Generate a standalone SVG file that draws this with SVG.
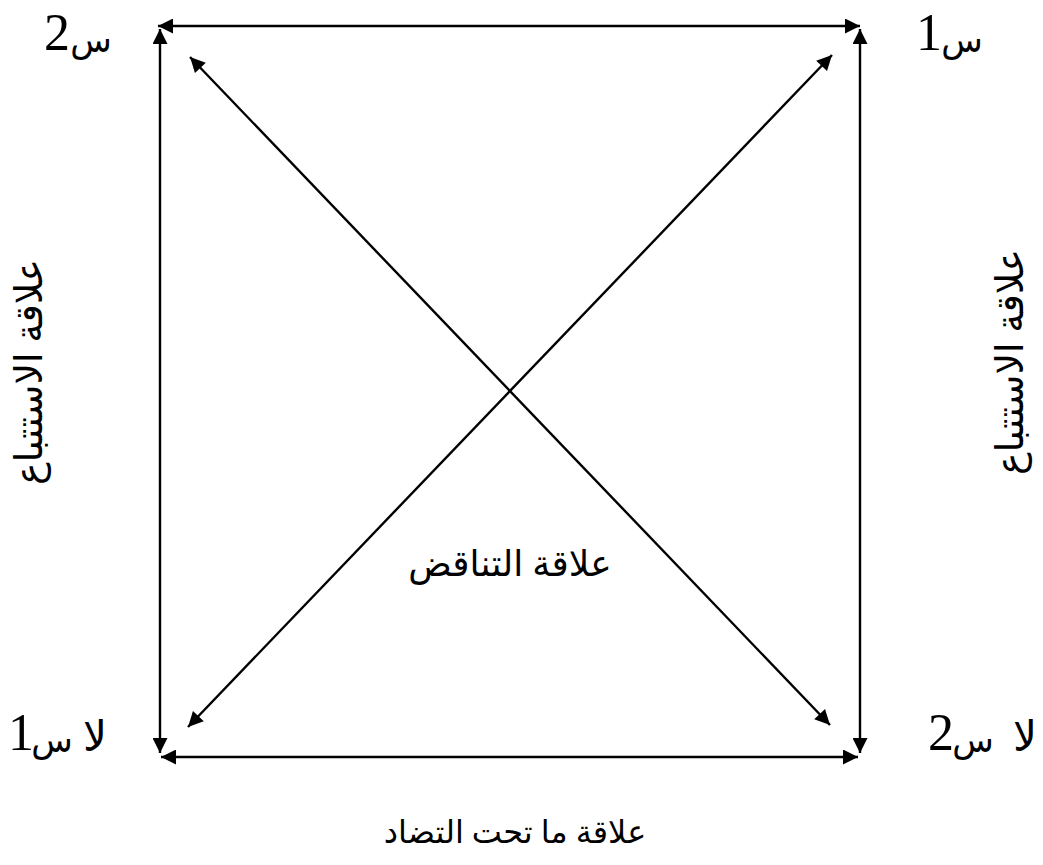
<svg xmlns="http://www.w3.org/2000/svg" width="1043" height="865" viewBox="0 0 1043 865">
<style>
.ln{stroke:#000;stroke-width:2.4;fill:none;marker-start:url(#ah);marker-end:url(#ah)}
.num{font-family:"Liberation Serif","Times New Roman",serif;font-size:52px;fill:#000}
.ar{font-family:"Liberation Serif","DejaVu Serif","DejaVu Sans",serif;fill:#000}
.let{font-size:34px}
.la{font-size:42px}
</style>
<defs>
<marker id="ah" viewBox="0 0 10 10" refX="10" refY="5" markerWidth="20" markerHeight="15" markerUnits="userSpaceOnUse" orient="auto-start-reverse">
<path d="M0,0 L10,5 L0,10 z" fill="#000"/>
</marker>
</defs>
<rect width="1043" height="865" fill="#fff"/>
<g id="connectors">
<line class="ln" x1="158" y1="26" x2="860" y2="26"/>
<line class="ln" x1="160" y1="29" x2="160" y2="753"/>
<line class="ln" x1="860" y1="29" x2="860" y2="753"/>
<line class="ln" x1="161" y1="757" x2="858" y2="757"/>
<line class="ln" x1="190" y1="57" x2="830" y2="725"/>
<line class="ln" x1="832" y1="55" x2="188" y2="727"/>
</g>
<g id="node-s2">
<text class="num" x="44" y="50">2</text>
<text class="ar let" x="91" y="52" text-anchor="middle">س</text>
</g>
<g id="node-s1">
<text class="num" x="916" y="50">1</text>
<text class="ar let" x="962" y="52" text-anchor="middle">س</text>
</g>
<g id="node-not-s1">
<text class="num" x="8" y="750">1</text>
<text class="ar let" x="52" y="752" text-anchor="middle">س</text>
<text class="ar la" x="95" y="751" text-anchor="middle">لا</text>
</g>
<g id="node-not-s2">
<text class="num" x="928" y="750">2</text>
<text class="ar let" x="973" y="752" text-anchor="middle">س</text>
<text class="ar la" x="1025" y="751" text-anchor="middle">لا</text>
</g>
<g id="label-left">
<text class="ar" font-size="38" transform="translate(42,372) rotate(-90)" text-anchor="middle">علاقة الاستتباع</text>
</g>
<g id="label-right">
<text class="ar" font-size="38" transform="translate(1023,362) rotate(-90)" text-anchor="middle">علاقة الاستتباع</text>
</g>
<g id="label-center">
<text class="ar" font-size="36" x="510" y="576" text-anchor="middle">علاقة التناقض</text>
</g>
<g id="label-bottom">
<text class="ar" font-size="32" x="515" y="843" text-anchor="middle">علاقة ما تحت التضاد</text>
</g>
</svg>
